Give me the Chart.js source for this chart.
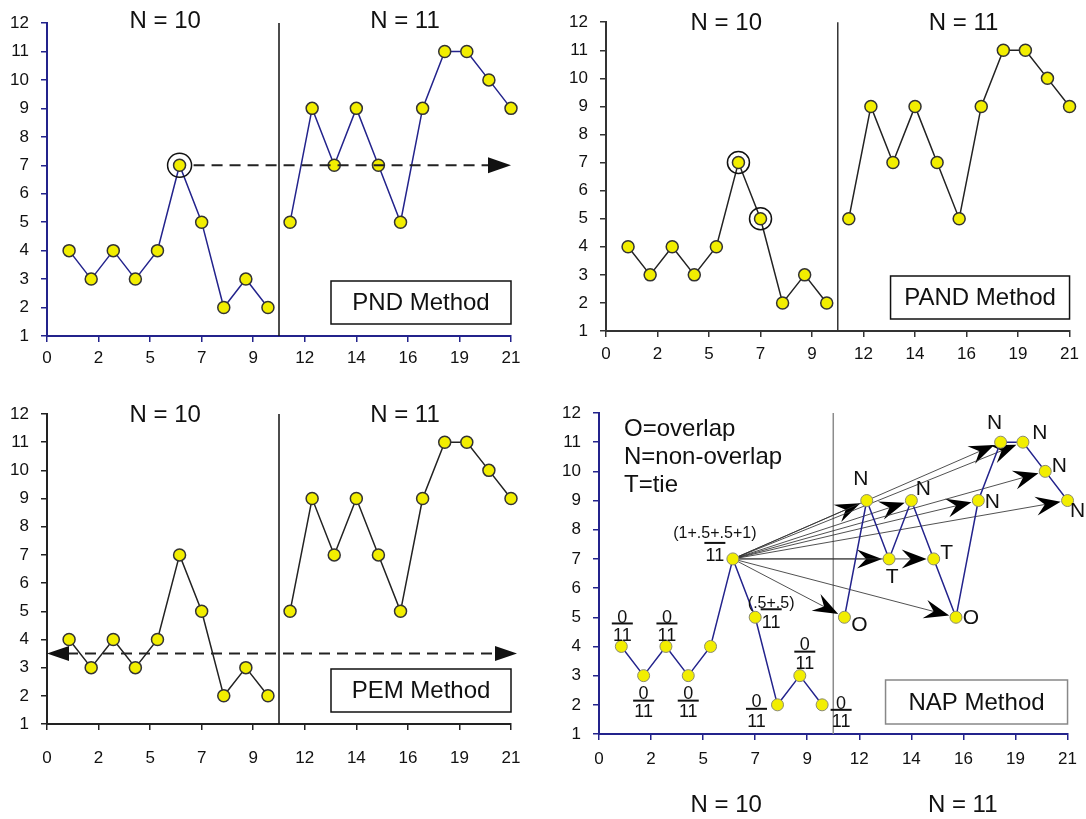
<!DOCTYPE html>
<html>
<head>
<meta charset="utf-8">
<script src="https://cdn.jsdelivr.net/npm/chart.js@4.4.1/dist/chart.umd.min.js"></script>
<style>
  body { margin: 0; background: #fff; width: 1086px; height: 819px; overflow: hidden; position: relative; }
  canvas { position: absolute; }
</style>
</head>
<body>
<canvas id="pnd" width="543" height="390" style="left:0;top:0"></canvas>
<canvas id="pand" width="543" height="390" style="left:543px;top:0"></canvas>
<canvas id="pem" width="543" height="390" style="left:0;top:390px"></canvas>
<canvas id="nap" width="543" height="429" style="left:543px;top:390px"></canvas>
<script>
// data (same series in each)
const baselineSessions = [1, 2, 3, 4, 5, 6, 7, 8, 9, 10];
const baselineValues = [4, 3, 4, 3, 4, 7, 5, 2, 3, 2];
const treatmentSessions = [11, 12, 13, 14, 15, 16, 17, 18, 19, 20, 21];
const treatmentValues = [5, 9, 7, 9, 7, 5, 9, 11, 11, 10, 9];
const xTickLabels = ['0', '2', '5', '7', '9', '12', '14', '16', '19', '21'];
const phaseTitles = ['N = 10', 'N = 11'];
const phaseChange = 10.5;
// NAP panel: per-pair outcome for the peak baseline point, and each baseline point's fraction
const napOutcomes = ['O', 'N', 'T', 'N', 'T', 'O', 'N', 'N', 'N', 'N', 'N'];
const napNumerators = ['0', '0', '0', '0', null, '(1+.5+.5+1)', '(.5+.5)', '0', '0', '0'];
const napDenominator = '11';
const napLegend = ['O=overlap', 'N=non-overlap', 'T=tie'];

const FONT = '"Liberation Sans", Arial, Helvetica, sans-serif';
const NAVY = '#23238c';

function font(size) { return size + 'px ' + FONT; }

function phaseLine(chart, color) {
  const { ctx, chartArea, scales: { x } } = chart;
  const px = x.getPixelForValue(phaseChange);
  ctx.save();
  ctx.strokeStyle = color;
  ctx.lineWidth = 1.5;
  ctx.beginPath();
  ctx.moveTo(px, chartArea.top);
  ctx.lineTo(px, chartArea.bottom);
  ctx.stroke();
  ctx.restore();
}

function titles(chart, yPos, xs) {
  const { ctx, scales: { x } } = chart;
  ctx.save();
  ctx.font = font(24);
  ctx.fillStyle = '#111';
  ctx.textAlign = 'center';
  ctx.textBaseline = 'middle';
  phaseTitles.forEach((t, i) => ctx.fillText(t, x.getPixelForValue(xs[i]), yPos));
  ctx.restore();
}

function methodBox(chart, label, w, h, gap, color) {
  const { ctx, chartArea } = chart;
  const x0 = chartArea.right - w, y0 = chartArea.bottom - gap - h;
  ctx.save();
  ctx.fillStyle = '#fff';
  ctx.fillRect(x0, y0, w, h);
  ctx.strokeStyle = color;
  ctx.lineWidth = 1.5;
  ctx.strokeRect(x0, y0, w, h);
  ctx.fillStyle = '#111';
  ctx.font = font(24);
  ctx.textAlign = 'center';
  ctx.textBaseline = 'middle';
  ctx.fillText(label, x0 + w / 2, y0 + h / 2 + 1);
  ctx.restore();
}

function arrowHead(ctx, tx, ty, ux, uy, len, half, notch) {
  const nx = -uy, ny = ux;
  ctx.beginPath();
  ctx.moveTo(tx, ty);
  ctx.lineTo(tx - ux * len + nx * half, ty - uy * len + ny * half);
  ctx.lineTo(tx - ux * (len - notch), ty - uy * (len - notch));
  ctx.lineTo(tx - ux * len - nx * half, ty - uy * len - ny * half);
  ctx.closePath();
  ctx.fill();
}

function ring(chart, idx, r) {
  const { ctx, scales: { x, y } } = chart;
  ctx.save();
  ctx.strokeStyle = '#111';
  ctx.lineWidth = 1.5;
  ctx.beginPath();
  ctx.arc(x.getPixelForValue(baselineSessions[idx]), y.getPixelForValue(baselineValues[idx]), r, 0, Math.PI * 2);
  ctx.stroke();
  ctx.restore();
}

function makePanel(id, cfg) {
  const pts = (xs, ys) => xs.map((v, i) => ({ x: v, y: ys[i] }));
  const ds = (data) => ({
    data,
    showLine: true,
    borderColor: cfg.line,
    borderWidth: 1.5,
    pointRadius: 6,
    pointBackgroundColor: '#f2ee00',
    pointBorderColor: cfg.pointBorder,
    pointBorderWidth: cfg.pointBorderWidth,
    clip: false
  });
  const tickFont = { family: FONT, size: 17 };
  return new Chart(document.getElementById(id), {
    type: 'scatter',
    data: { datasets: [ds(pts(baselineSessions, baselineValues)), ds(pts(treatmentSessions, treatmentValues))] },
    options: {
      responsive: false,
      animation: false,
      layout: { padding: { left: 0, right: cfg.right, top: cfg.top, bottom: 0 } },
      plugins: { legend: { display: false }, tooltip: { enabled: false } },
      scales: {
        x: {
          type: 'linear', min: 0, max: 21,
          afterBuildTicks: s => { s.ticks = xTickLabels.map((l, i) => ({ value: i * 21 / (xTickLabels.length - 1) })); },
          afterFit: s => { s.height = cfg.xH; },
          ticks: { callback: (v, i) => xTickLabels[i], font: tickFont, color: '#111', padding: cfg.xPad, autoSkip: false, maxRotation: 0 },
          grid: { drawOnChartArea: false, tickLength: 6, tickColor: cfg.axis, lineWidth: 1.5 },
          border: { color: cfg.axis, width: 2 }
        },
        y: {
          min: 1, max: 12,
          afterFit: s => { s.width = cfg.yW; },
          ticks: { stepSize: 1, font: tickFont, color: '#111', padding: 12 },
          grid: { drawOnChartArea: false, tickLength: 6, tickColor: cfg.axis, lineWidth: 1.5 },
          border: { color: cfg.axis, width: 2 }
        }
      }
    },
    plugins: [{ id: id + 'Notes', beforeDatasetsDraw: cfg.before, afterDatasetsDraw: cfg.after }]
  });
}

const peakIdx = baselineValues.indexOf(Math.max(...baselineValues));
const minTreat = Math.min(...treatmentValues);
const sortedBase = [...baselineValues].sort((a, b) => a - b);
const baseMedian = (sortedBase[4] + sortedBase[5]) / 2;

// PND
makePanel('pnd', {
  right: 32, top: 23, yW: 47, xH: 54, xPad: 6,
  axis: NAVY, line: NAVY, pointBorder: '#333', pointBorderWidth: 1.5,
  before: c => phaseLine(c, '#111'),
  after: c => {
    const { ctx, chartArea, scales: { x, y } } = c;
    ring(c, peakIdx, 12);
    const py = y.getPixelForValue(baselineValues[peakIdx]);
    const x0 = x.getPixelForValue(baselineSessions[peakIdx]) + 14, x1 = x.getPixelForValue(21);
    ctx.save();
    ctx.strokeStyle = '#222'; ctx.fillStyle = '#111'; ctx.lineWidth = 2;
    ctx.setLineDash([11, 7]);
    ctx.beginPath(); ctx.moveTo(x0, py); ctx.lineTo(x1 - 20, py); ctx.stroke();
    ctx.setLineDash([]);
    arrowHead(ctx, x1, py, 1, 0, 23, 8, 0);
    ctx.restore();
    methodBox(c, 'PND Method', 180, 43, 12, '#111');
    titles(c, chartArea.top - 2, [5.35, 16.2]);
  }
});

// PAND
makePanel('pand', {
  right: 15, top: 20, yW: 63, xH: 59, xPad: 7,
  axis: '#333', line: '#222', pointBorder: '#333', pointBorderWidth: 1.5,
  before: c => phaseLine(c, '#333'),
  after: c => {
    baselineValues.forEach((v, i) => { if (v >= minTreat) ring(c, i, 11); });
    methodBox(c, 'PAND Method', 179, 43, 12, '#111');
    titles(c, c.chartArea.top + 1, [5.45, 16.2]);
  }
});

// PEM
makePanel('pem', {
  right: 32, top: 24, yW: 47, xH: 56, xPad: 18,
  axis: '#222', line: '#222', pointBorder: '#333', pointBorderWidth: 1.5,
  before: c => phaseLine(c, '#111'),
  after: c => {
    const { ctx, chartArea, scales: { y } } = c;
    const py = y.getPixelForValue(baseMedian);
    const xl = chartArea.left, xr = chartArea.right + 6;
    ctx.save();
    ctx.strokeStyle = '#222'; ctx.fillStyle = '#111'; ctx.lineWidth = 2;
    ctx.setLineDash([11, 7]);
    ctx.beginPath(); ctx.moveTo(xl + 20, py); ctx.lineTo(xr - 20, py); ctx.stroke();
    ctx.setLineDash([]);
    arrowHead(ctx, xl, py, -1, 0, 22, 7.5, 0);
    arrowHead(ctx, xr, py, 1, 0, 22, 7.5, 0);
    ctx.restore();
    methodBox(c, 'PEM Method', 180, 43, 12, '#111');
    titles(c, chartArea.top + 1, [5.35, 16.2]);
  }
});

// NAP
const fracPlace = [
  { dx: 1, n: -29, b: -23, d: -11 }, { dx: 0, n: 17, b: 25, d: 35 },
  { dx: 1, n: -29, b: -23, d: -11 }, { dx: 0, n: 17, b: 25, d: 35 },
  null, { dx: -18, n: -26, b: -16, d: -4 }, { dx: 16, n: -15, b: -8, d: 5 },
  { dx: -21, n: -4, b: 4, d: 16 }, { dx: 5, n: -32, b: -24, d: -13 }, { dx: 19, n: -2, b: 5, d: 16 }
];
const outcomePlace = [
  [15, 8], [-6, -21], [3, 18], [12, -11], [13, -6], [15, 1], [14, 2], [-6, -19], [17, -9], [14, -5], [10, 11]
];

makePanel('nap', {
  right: 17, top: 23, yW: 56, xH: 85, xPad: 9,
  axis: NAVY, line: NAVY, pointBorder: '#8a8a70', pointBorderWidth: 1,
  before: c => {
    phaseLine(c, '#8c8c8c');
    const { ctx, scales: { x, y } } = c;
    const sx = x.getPixelForValue(baselineSessions[peakIdx]), sy = y.getPixelForValue(baselineValues[peakIdx]);
    ctx.save();
    ctx.strokeStyle = 'rgba(50,50,50,0.85)'; ctx.fillStyle = '#000'; ctx.lineWidth = 1;
    treatmentSessions.forEach((s, i) => {
      const tx = x.getPixelForValue(s), ty = y.getPixelForValue(treatmentValues[i]);
      const d = Math.hypot(tx - sx, ty - sy), ux = (tx - sx) / d, uy = (ty - sy) / d;
      const hx = tx - ux * 7, hy = ty - uy * 7;
      ctx.beginPath(); ctx.moveTo(sx + ux * 5, sy + uy * 5); ctx.lineTo(hx - ux * 14, hy - uy * 14); ctx.stroke();
      arrowHead(ctx, hx, hy, ux, uy, 25, 9.5, 9);
    });
    ctx.restore();
  },
  after: c => {
    const { ctx, chartArea, scales: { x, y } } = c;
    ctx.save();
    ctx.fillStyle = '#111';
    ctx.textAlign = 'center'; ctx.textBaseline = 'middle';
    ctx.font = font(21);
    treatmentSessions.forEach((s, i) => {
      ctx.fillText(napOutcomes[i], x.getPixelForValue(s) + outcomePlace[i][0], y.getPixelForValue(treatmentValues[i]) + outcomePlace[i][1]);
    });
    baselineSessions.forEach((s, i) => {
      const num = napNumerators[i], p = fracPlace[i];
      if (!num) return;
      const cx = x.getPixelForValue(s) + p.dx, cy = y.getPixelForValue(baselineValues[i]);
      ctx.font = font(num.length > 2 ? 16 : 18);
      ctx.fillText(num, cx, cy + p.n + 1);
      ctx.font = font(18);
      ctx.fillText(napDenominator, cx, cy + p.d + 1);
      ctx.fillRect(cx - 10.5, cy + p.b - 1, 21, 2);
    });
    ctx.textAlign = 'left';
    ctx.font = font(24);
    napLegend.forEach((t, i) => ctx.fillText(t, chartArea.left + 25, chartArea.top + 16 + i * 28.4));
    ctx.restore();
    methodBox(c, 'NAP Method', 182, 44, 10, '#888');
    titles(c, chartArea.bottom + 71, [5.7, 16.3]);
  }
});
</script>
</body>
</html>
